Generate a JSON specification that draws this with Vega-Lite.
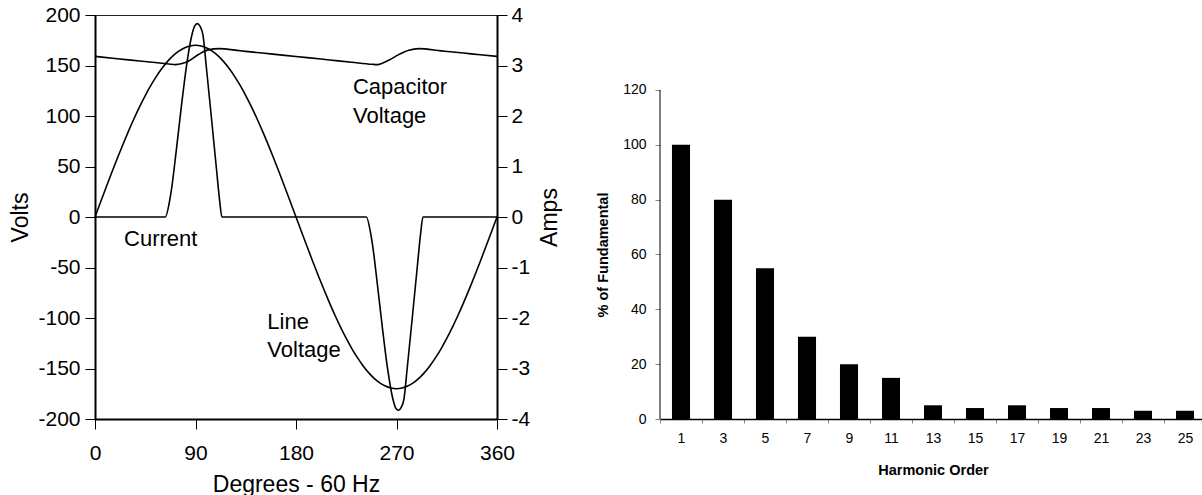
{
  "$schema": "https://vega.github.io/schema/vega-lite/v6.json",
  "padding": {"left": 9, "top": 3, "right": 0, "bottom": 0},
  "bounds": "flush",
  "spacing": 163,
  "datasets": {
    "volts": [
      {"deg": 0, "series": "Line Voltage", "v": 0},
      {"deg": 5, "series": "Line Voltage", "v": 14.82},
      {"deg": 10, "series": "Line Voltage", "v": 29.52},
      {"deg": 15, "series": "Line Voltage", "v": 44.0},
      {"deg": 20, "series": "Line Voltage", "v": 58.14},
      {"deg": 25, "series": "Line Voltage", "v": 71.85},
      {"deg": 30, "series": "Line Voltage", "v": 85.0},
      {"deg": 35, "series": "Line Voltage", "v": 97.51},
      {"deg": 40, "series": "Line Voltage", "v": 109.27},
      {"deg": 45, "series": "Line Voltage", "v": 120.21},
      {"deg": 50, "series": "Line Voltage", "v": 130.23},
      {"deg": 55, "series": "Line Voltage", "v": 139.26},
      {"deg": 60, "series": "Line Voltage", "v": 147.22},
      {"deg": 65, "series": "Line Voltage", "v": 154.07},
      {"deg": 70, "series": "Line Voltage", "v": 159.75},
      {"deg": 75, "series": "Line Voltage", "v": 164.21},
      {"deg": 80, "series": "Line Voltage", "v": 167.42},
      {"deg": 85, "series": "Line Voltage", "v": 169.35},
      {"deg": 90, "series": "Line Voltage", "v": 170.0},
      {"deg": 95, "series": "Line Voltage", "v": 169.35},
      {"deg": 100, "series": "Line Voltage", "v": 167.42},
      {"deg": 105, "series": "Line Voltage", "v": 164.21},
      {"deg": 110, "series": "Line Voltage", "v": 159.75},
      {"deg": 115, "series": "Line Voltage", "v": 154.07},
      {"deg": 120, "series": "Line Voltage", "v": 147.22},
      {"deg": 125, "series": "Line Voltage", "v": 139.26},
      {"deg": 130, "series": "Line Voltage", "v": 130.23},
      {"deg": 135, "series": "Line Voltage", "v": 120.21},
      {"deg": 140, "series": "Line Voltage", "v": 109.27},
      {"deg": 145, "series": "Line Voltage", "v": 97.51},
      {"deg": 150, "series": "Line Voltage", "v": 85.0},
      {"deg": 155, "series": "Line Voltage", "v": 71.85},
      {"deg": 160, "series": "Line Voltage", "v": 58.14},
      {"deg": 165, "series": "Line Voltage", "v": 44.0},
      {"deg": 170, "series": "Line Voltage", "v": 29.52},
      {"deg": 175, "series": "Line Voltage", "v": 14.82},
      {"deg": 180, "series": "Line Voltage", "v": 0},
      {"deg": 185, "series": "Line Voltage", "v": -14.82},
      {"deg": 190, "series": "Line Voltage", "v": -29.52},
      {"deg": 195, "series": "Line Voltage", "v": -44.0},
      {"deg": 200, "series": "Line Voltage", "v": -58.14},
      {"deg": 205, "series": "Line Voltage", "v": -71.85},
      {"deg": 210, "series": "Line Voltage", "v": -85.0},
      {"deg": 215, "series": "Line Voltage", "v": -97.51},
      {"deg": 220, "series": "Line Voltage", "v": -109.27},
      {"deg": 225, "series": "Line Voltage", "v": -120.21},
      {"deg": 230, "series": "Line Voltage", "v": -130.23},
      {"deg": 235, "series": "Line Voltage", "v": -139.26},
      {"deg": 240, "series": "Line Voltage", "v": -147.22},
      {"deg": 245, "series": "Line Voltage", "v": -154.07},
      {"deg": 250, "series": "Line Voltage", "v": -159.75},
      {"deg": 255, "series": "Line Voltage", "v": -164.21},
      {"deg": 260, "series": "Line Voltage", "v": -167.42},
      {"deg": 265, "series": "Line Voltage", "v": -169.35},
      {"deg": 270, "series": "Line Voltage", "v": -170.0},
      {"deg": 275, "series": "Line Voltage", "v": -169.35},
      {"deg": 280, "series": "Line Voltage", "v": -167.42},
      {"deg": 285, "series": "Line Voltage", "v": -164.21},
      {"deg": 290, "series": "Line Voltage", "v": -159.75},
      {"deg": 295, "series": "Line Voltage", "v": -154.07},
      {"deg": 300, "series": "Line Voltage", "v": -147.22},
      {"deg": 305, "series": "Line Voltage", "v": -139.26},
      {"deg": 310, "series": "Line Voltage", "v": -130.23},
      {"deg": 315, "series": "Line Voltage", "v": -120.21},
      {"deg": 320, "series": "Line Voltage", "v": -109.27},
      {"deg": 325, "series": "Line Voltage", "v": -97.51},
      {"deg": 330, "series": "Line Voltage", "v": -85.0},
      {"deg": 335, "series": "Line Voltage", "v": -71.85},
      {"deg": 340, "series": "Line Voltage", "v": -58.14},
      {"deg": 345, "series": "Line Voltage", "v": -44.0},
      {"deg": 350, "series": "Line Voltage", "v": -29.52},
      {"deg": 355, "series": "Line Voltage", "v": -14.82},
      {"deg": 360, "series": "Line Voltage", "v": 0},
      {"deg": 0, "series": "Capacitor Voltage", "v": 159.0},
      {"deg": 20, "series": "Capacitor Voltage", "v": 156.7},
      {"deg": 40, "series": "Capacitor Voltage", "v": 154.5},
      {"deg": 60, "series": "Capacitor Voltage", "v": 152.2},
      {"deg": 66, "series": "Capacitor Voltage", "v": 151.5},
      {"deg": 72, "series": "Capacitor Voltage", "v": 150.9},
      {"deg": 78, "series": "Capacitor Voltage", "v": 151.9},
      {"deg": 84, "series": "Capacitor Voltage", "v": 154.5},
      {"deg": 93, "series": "Capacitor Voltage", "v": 161.1},
      {"deg": 102, "series": "Capacitor Voltage", "v": 165.7},
      {"deg": 111, "series": "Capacitor Voltage", "v": 166.7},
      {"deg": 130, "series": "Capacitor Voltage", "v": 164.55},
      {"deg": 150, "series": "Capacitor Voltage", "v": 162.3},
      {"deg": 170, "series": "Capacitor Voltage", "v": 160.0},
      {"deg": 190, "series": "Capacitor Voltage", "v": 157.8},
      {"deg": 210, "series": "Capacitor Voltage", "v": 155.5},
      {"deg": 230, "series": "Capacitor Voltage", "v": 153.2},
      {"deg": 248, "series": "Capacitor Voltage", "v": 151.2},
      {"deg": 253, "series": "Capacitor Voltage", "v": 150.9},
      {"deg": 263, "series": "Capacitor Voltage", "v": 155.2},
      {"deg": 272, "series": "Capacitor Voltage", "v": 160.8},
      {"deg": 281, "series": "Capacitor Voltage", "v": 165.1},
      {"deg": 290, "series": "Capacitor Voltage", "v": 166.7},
      {"deg": 310, "series": "Capacitor Voltage", "v": 164.5},
      {"deg": 330, "series": "Capacitor Voltage", "v": 162.3},
      {"deg": 345, "series": "Capacitor Voltage", "v": 160.6},
      {"deg": 360, "series": "Capacitor Voltage", "v": 159.0}
    ],
    "amps": [
      {"deg": 0, "a": 0},
      {"deg": 63, "a": 0},
      {"deg": 66.9, "a": 0.33},
      {"deg": 68.4, "a": 0.53},
      {"deg": 72.8, "a": 1.32},
      {"deg": 77.3, "a": 2.18},
      {"deg": 81.8, "a": 2.97},
      {"deg": 86.3, "a": 3.56},
      {"deg": 89.2, "a": 3.78},
      {"deg": 91.6, "a": 3.83},
      {"deg": 94.0, "a": 3.78},
      {"deg": 96.7, "a": 3.6},
      {"deg": 99.7, "a": 2.97},
      {"deg": 104.2, "a": 1.98},
      {"deg": 108.6, "a": 0.99},
      {"deg": 111.6, "a": 0.33},
      {"deg": 113.7, "a": 0},
      {"deg": 243, "a": 0},
      {"deg": 246.9, "a": -0.33},
      {"deg": 248.4, "a": -0.53},
      {"deg": 252.8, "a": -1.32},
      {"deg": 257.3, "a": -2.18},
      {"deg": 261.8, "a": -2.97},
      {"deg": 266.3, "a": -3.56},
      {"deg": 269.2, "a": -3.78},
      {"deg": 271.6, "a": -3.83},
      {"deg": 274.0, "a": -3.78},
      {"deg": 276.7, "a": -3.6},
      {"deg": 279.7, "a": -2.97},
      {"deg": 284.2, "a": -1.98},
      {"deg": 288.6, "a": -0.99},
      {"deg": 291.6, "a": -0.33},
      {"deg": 293.7, "a": 0},
      {"deg": 360, "a": 0}
    ],
    "labels": [
      {"deg": 231, "v": 121.5, "text": "Capacitor"},
      {"deg": 231, "v": 93, "text": "Voltage"},
      {"deg": 26, "v": -29, "text": "Current"},
      {"deg": 154.3, "v": -110.5, "text": "Line"},
      {"deg": 154.3, "v": -138.6, "text": "Voltage"}
    ],
    "harmonics": [
      {"order": 1, "pct": 100},
      {"order": 3, "pct": 80},
      {"order": 5, "pct": 55},
      {"order": 7, "pct": 30},
      {"order": 9, "pct": 20},
      {"order": 11, "pct": 15},
      {"order": 13, "pct": 5},
      {"order": 15, "pct": 4},
      {"order": 17, "pct": 5},
      {"order": 19, "pct": 4},
      {"order": 21, "pct": 4},
      {"order": 23, "pct": 3},
      {"order": 25, "pct": 3}
    ],
    "axisline": [
      {"order": 1, "lo": 0, "hi": 120}
    ]
  },
  "hconcat": [
    {
      "width": 402,
      "height": 404,
      "view": {"stroke": "#222", "strokeWidth": 1},
      "layer": [
        {
          "layer": [
            {
              "data": {"name": "volts"},
              "mark": {"type": "line", "color": "black", "strokeWidth": 1.6, "interpolate": "monotone"},
              "encoding": {
                "x": {"field": "deg", "type": "quantitative", "scale": {"domain": [0, 360], "nice": false},
                  "axis": {"title": "Degrees - 60 Hz", "values": [0, 90, 180, 270, 360], "labelPadding": 13, "titlePadding": 10, "grid": false}},
                "y": {"field": "v", "type": "quantitative", "scale": {"domain": [-200, 200], "nice": false},
                  "axis": {"title": "Volts", "values": [-200, -150, -100, -50, 0, 50, 100, 150, 200], "labelExpr": "datum.value + ''", "labelPadding": 5, "titlePadding": 5, "grid": false}},
                "detail": {"field": "series"}
              }
            },
            {
              "data": {"name": "labels"},
              "mark": {"type": "text", "align": "left", "baseline": "alphabetic", "fontSize": 22, "font": "Liberation Sans", "color": "black"},
              "encoding": {
                "x": {"field": "deg", "type": "quantitative"},
                "y": {"field": "v", "type": "quantitative"},
                "text": {"field": "text"}
              }
            }
          ]
        },
        {
          "data": {"name": "amps"},
          "mark": {"type": "line", "color": "black", "strokeWidth": 1.6, "interpolate": "monotone"},
          "encoding": {
            "x": {"field": "deg", "type": "quantitative"},
            "y": {"field": "a", "type": "quantitative", "scale": {"domain": [-4, 4], "nice": false},
              "axis": {"orient": "right", "title": "Amps", "titleAngle": 270, "titleBaseline": "top", "values": [-4, -3, -2, -1, 0, 1, 2, 3, 4], "labelExpr": "datum.value + ''", "labelPadding": 4, "titlePadding": 9, "grid": false}}
          }
        }
      ],
      "resolve": {"scale": {"y": "independent"}, "axis": {"y": "independent"}}
    },
    {
      "width": 546,
      "height": 404,
      "view": {"stroke": null},
      "layer": [
        {
          "data": {"name": "harmonics"},
          "mark": {"type": "bar", "color": "black", "width": {"band": 0.43}},
          "encoding": {
            "x": {"field": "order", "type": "ordinal", "scale": {"paddingInner": 0, "paddingOuter": 0},
              "axis": {"title": "Harmonic Order", "labelAngle": 0, "tickBand": "extent", "labelFontSize": 14, "titleFontSize": 14.5, "titleFontWeight": "bold", "tickSize": 4, "tickColor": "#888", "domainWidth": 1.5, "labelPadding": 8, "titlePadding": 18, "grid": false}},
            "y": {"field": "pct", "type": "quantitative", "scale": {"domain": [0, 147.35], "nice": false},
              "axis": {"title": "% of Fundamental", "values": [0, 20, 40, 60, 80, 100, 120], "domain": false, "labelFontSize": 14, "titleFontSize": 14.5, "titleFontWeight": "bold", "tickSize": 5, "tickColor": "#888", "labelPadding": 9, "titlePadding": 12, "titleY": 239.5, "grid": false}}
          }
        },
        {
          "data": {"name": "axisline"},
          "mark": {"type": "rule", "color": "black", "strokeWidth": 1},
          "encoding": {
            "x": {"field": "order", "type": "ordinal", "bandPosition": 0},
            "y": {"field": "lo", "type": "quantitative"},
            "y2": {"field": "hi"}
          }
        }
      ]
    }
  ],
  "config": {
    "view": {"stroke": null},
    "font": "Liberation Sans",
    "axis": {
      "labelFont": "Liberation Sans",
      "titleFont": "Liberation Sans",
      "labelFontSize": 21,
      "titleFontSize": 23,
      "titleFontWeight": "normal",
      "labelColor": "black",
      "titleColor": "black",
      "tickColor": "black",
      "domainColor": "black",
      "domainWidth": 2,
      "tickSize": 10,
      "tickWidth": 1,
      "labelFlush": false,
      "labelOverlap": false
    }
  }
}
